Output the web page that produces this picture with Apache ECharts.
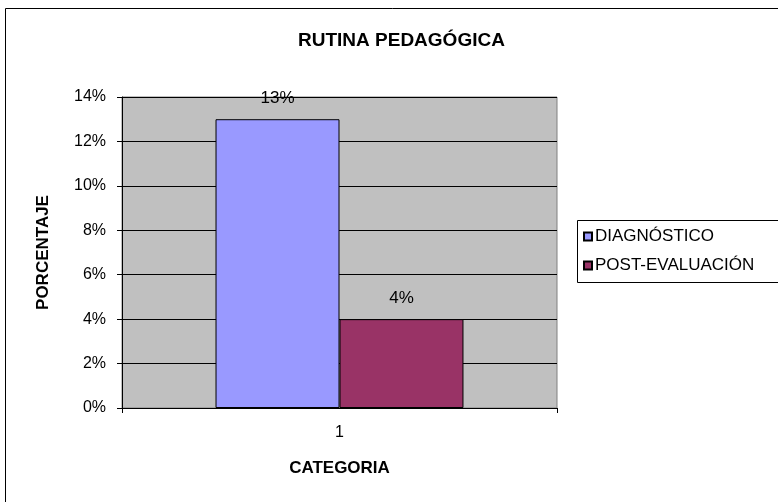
<!DOCTYPE html>
<html>
<head>
<meta charset="utf-8">
<script src="https://cdn.jsdelivr.net/npm/echarts@6/dist/echarts.min.js"></script>
<style>
  html, body { margin: 0; padding: 0; background: #fff; }
  #chart { width: 778px; height: 502px; }
</style>
</head>
<body>
<div id="chart"></div>
<script>
// datos del grafico
const categorias = ["1"];
const nombresSeries = ["DIAGNÓSTICO", "POST-EVALUACIÓN"];
const diagnostico = [0.13];
const postEvaluacion = [0.04];
const coloresSeries = ["#9999FF", "#993366"];

const chart = echarts.init(document.getElementById("chart"));
const fuente = "'Liberation Sans', Arial, sans-serif";

function pct(v) {
  return Math.round(v * 100) + "%";
}

const etiquetaBarra = {
  show: true,
  position: "top",
  distance: 12,
  fontFamily: fuente,
  fontSize: 17,
  color: "#000",
  formatter: (p) => pct(p.value),
};

const option = {
  animation: false,
  textStyle: { fontFamily: fuente, color: "#000" },
  title: {
    text: "RUTINA PEDAGÓGICA",
    left: 293,
    top: 26,
    textStyle: { fontFamily: fuente, fontSize: 19, fontWeight: "bold", color: "#000" },
  },
  graphic: [
    {
      // borde exterior
      type: "rect",
      shape: { x: 5.5, y: 8.5, width: 790, height: 500 },
      style: { fill: "none", stroke: "#000", lineWidth: 1 },
      z: -1,
    },
    {
      // caja de leyenda
      type: "rect",
      shape: { x: 577.5, y: 220.5, width: 220, height: 62 },
      style: { fill: "#fff", stroke: "#000", lineWidth: 1 },
      z: 0,
    },
  ],
  legend: {
    orient: "vertical",
    left: 578,
    top: 223,
    itemWidth: 8,
    itemHeight: 8,
    itemGap: 12,
    icon: "rect",
    textStyle: { fontFamily: fuente, fontSize: 17, color: "#000", padding: [0, 0, 0, -2] },
    data: nombresSeries,
    z: 5,
  },
  grid: {
    left: 122,
    right: 221,
    top: 97,
    bottom: 94,
    show: true,
    backgroundColor: "#C0C0C0",
    borderColor: "#808080",
    borderWidth: 1,
  },
  xAxis: {
    type: "category",
    data: categorias,
    name: "CATEGORIA",
    nameLocation: "middle",
    nameGap: 52,
    nameTextStyle: { fontFamily: fuente, fontSize: 17, fontWeight: "bold", color: "#000" },
    axisLine: { lineStyle: { color: "#000", width: 1 } },
    axisTick: { show: true, length: 5, lineStyle: { color: "#000" } },
    axisLabel: { fontFamily: fuente, fontSize: 16, color: "#000", margin: 17 },
  },
  yAxis: {
    type: "value",
    min: 0,
    max: 0.14,
    interval: 0.02,
    name: "PORCENTAJE",
    nameLocation: "middle",
    nameGap: 70,
    nameTextStyle: { fontFamily: fuente, fontSize: 17, fontWeight: "bold", color: "#000" },
    axisLine: { show: true, lineStyle: { color: "#000", width: 1 } },
    axisTick: { show: true, length: 5, lineStyle: { color: "#000" } },
    axisLabel: { fontFamily: fuente, fontSize: 16, color: "#000", margin: 16, formatter: pct },
    splitLine: { show: true, lineStyle: { color: "#000", width: 1 } },
  },
  series: [
    {
      name: nombresSeries[0],
      type: "bar",
      data: diagnostico,
      barCategoryGap: "43%",
      barGap: "0%",
      itemStyle: { color: coloresSeries[0], borderColor: "#000", borderWidth: 1 },
      label: etiquetaBarra,
    },
    {
      name: nombresSeries[1],
      type: "bar",
      data: postEvaluacion,
      barCategoryGap: "43%",
      barGap: "0%",
      itemStyle: { color: coloresSeries[1], borderColor: "#000", borderWidth: 1 },
      label: etiquetaBarra,
    },
  ],
};

chart.setOption(option);
</script>
</body>
</html>
